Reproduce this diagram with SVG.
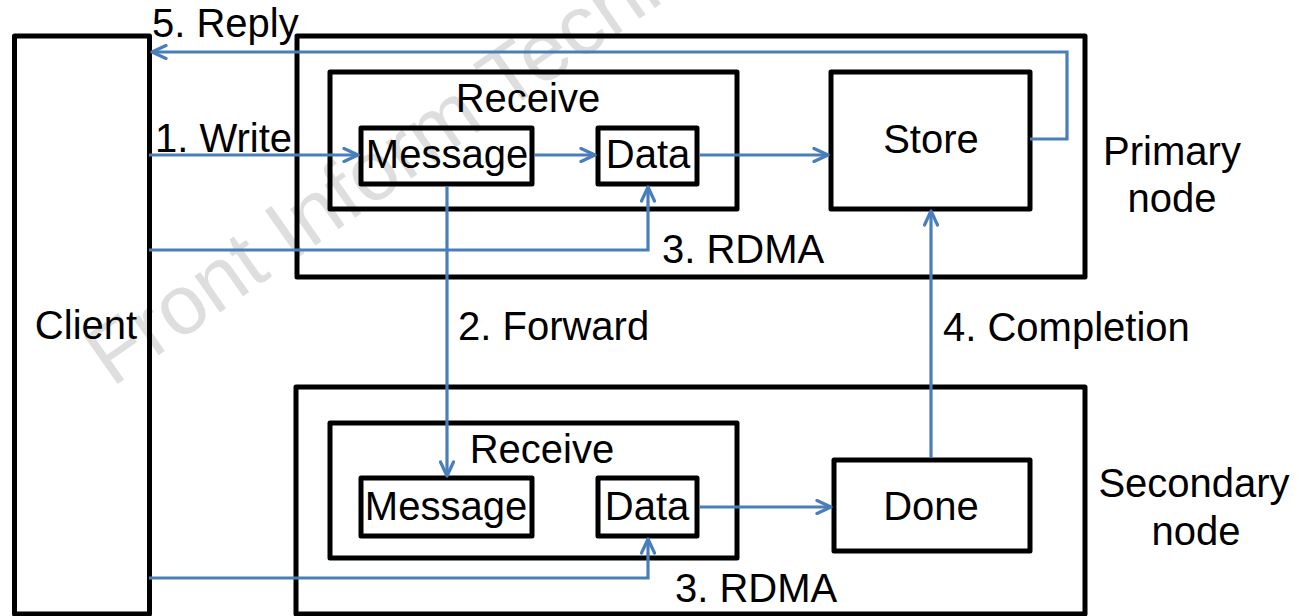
<svg xmlns="http://www.w3.org/2000/svg" width="1299" height="616" viewBox="0 0 1299 616">
  <style>
    .box { fill: none; stroke: #000; stroke-width: 5; stroke-linejoin: round; }
    .lbl { font-family: "Liberation Sans", Arial, sans-serif; font-size: 40px; fill: #000; }
    .mid { text-anchor: middle; }
    .wire { fill: none; stroke: #4a7ebb; stroke-width: 3.2; stroke-linejoin: miter; }
    .mark { font-family: "Liberation Sans", Arial, sans-serif; font-size: 84px; fill: #dedede; }
  </style>
  <defs>
    <marker id="head" viewBox="0 0 18 16" markerWidth="18" markerHeight="16" refX="16" refY="8" orient="auto" markerUnits="userSpaceOnUse">
      <path d="M2,1.5 L16,8 L2,14.5" fill="none" stroke="#4a7ebb" stroke-width="3.2" stroke-linecap="round" stroke-linejoin="round"/>
    </marker>
  </defs>

  <rect width="1299" height="616" fill="#fff"/>

  <!-- watermark -->
  <text class="mark" transform="translate(112 388) rotate(-35)">Front Inform Technol</text>

  <!-- client -->
  <g id="client">
    <rect class="box" x="14.5" y="36" width="135" height="578"/>
    <text class="lbl mid" x="86" y="339">Client</text>
  </g>

  <!-- primary node -->
  <g id="primary">
    <rect class="box" x="297" y="36" width="788" height="241"/>
    <text class="lbl mid" x="1172" y="165">Primary</text>
    <text class="lbl mid" x="1172" y="212">node</text>
  </g>
  <g id="primary-receive">
    <rect class="box" x="330" y="72" width="407" height="137"/>
    <text class="lbl mid" x="528" y="112">Receive</text>
  </g>
  <g id="primary-message">
    <rect class="box" x="361" y="128" width="171" height="56"/>
    <text class="lbl mid" x="447" y="168">Message</text>
  </g>
  <g id="primary-data">
    <rect class="box" x="598" y="128" width="99" height="56"/>
    <text class="lbl mid" x="648" y="168">Data</text>
  </g>
  <g id="store">
    <rect class="box" x="831" y="72" width="199" height="137"/>
    <text class="lbl mid" x="931" y="153">Store</text>
  </g>

  <!-- secondary node -->
  <g id="secondary">
    <rect class="box" x="296" y="387" width="789" height="227"/>
    <text class="lbl mid" x="1194" y="497">Secondary</text>
    <text class="lbl mid" x="1196" y="545">node</text>
  </g>
  <g id="secondary-receive">
    <rect class="box" x="330" y="423" width="407" height="135"/>
    <text class="lbl mid" x="542" y="463">Receive</text>
  </g>
  <g id="secondary-message">
    <rect class="box" x="361" y="478" width="171" height="58"/>
    <text class="lbl mid" x="446" y="520">Message</text>
  </g>
  <g id="secondary-data">
    <rect class="box" x="598" y="478" width="99" height="58"/>
    <text class="lbl mid" x="647" y="520">Data</text>
  </g>
  <g id="done">
    <rect class="box" x="834" y="460" width="196" height="91"/>
    <text class="lbl mid" x="931" y="520">Done</text>
  </g>

  <!-- connectors -->
  <g id="connectors">
    <path class="wire" d="M1030,139 H1067 V52 H152" marker-end="url(#head)"/>
    <path class="wire" d="M149,155 H358" marker-end="url(#head)"/>
    <path class="wire" d="M534,155 H595" marker-end="url(#head)"/>
    <path class="wire" d="M699,155 H828" marker-end="url(#head)"/>
    <path class="wire" d="M149,250 H648 V187" marker-end="url(#head)"/>
    <path class="wire" d="M447,186 V476" marker-end="url(#head)"/>
    <path class="wire" d="M931,458 V211" marker-end="url(#head)"/>
    <path class="wire" d="M699,507 H831" marker-end="url(#head)"/>
    <path class="wire" d="M149,578 H648 V539" marker-end="url(#head)"/>

    <text class="lbl" x="152" y="37">5. Reply</text>
    <text class="lbl" x="155" y="152">1. Write</text>
    <text class="lbl" x="662" y="263">3. RDMA</text>
    <text class="lbl" x="458" y="340">2. Forward</text>
    <text class="lbl" x="943" y="341">4. Completion</text>
    <text class="lbl" x="675" y="602">3. RDMA</text>
  </g>
</svg>
